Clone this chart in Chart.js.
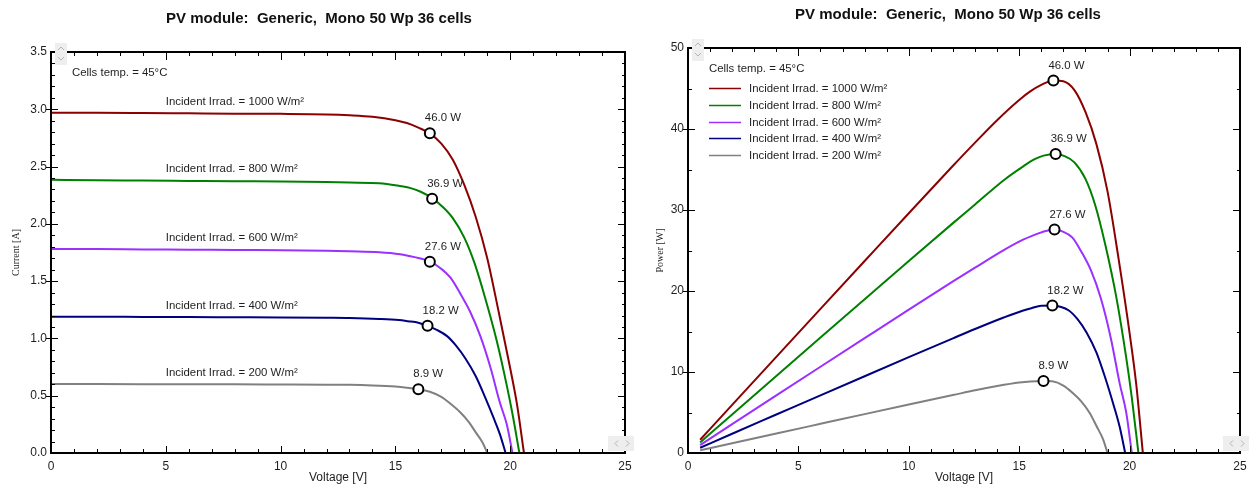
<!DOCTYPE html>
<html>
<head>
<meta charset="utf-8">
<title>PV module: Generic, Mono 50 Wp 36 cells</title>
<script src="https://cdn.jsdelivr.net/npm/chart.js@4.4.1/dist/chart.umd.min.js"></script>
<style>
  html, body { margin: 0; padding: 0; background: #fff; }
  body { width: 1254px; height: 489px; position: relative; overflow: hidden; }
  canvas { position: absolute; top: 0; }
  #ivChart { left: 0; }
  #pvChart { left: 642px; }
</style>
</head>
<body>
<canvas id="ivChart" width="638" height="489"></canvas>
<canvas id="pvChart" width="612" height="489"></canvas>
<script>
const chartTitle = 'PV module:  Generic,  Mono 50 Wp 36 cells';
const cellsTemp = 'Cells temp. = 45°C';
const irradiance = [1000, 800, 600, 400, 200];
const curveColors = ['#8b0000', '#008000', '#9b30ff', '#000080', '#808080'];

// I-V curves (left graph), voltage [V] / current [A]
const ivV1000 = [0, 2, 4, 6, 8, 10, 12, 13, 14, 15, 15.5, 16, 16.5, 17, 17.5, 18, 18.5, 19, 19.5, 20, 20.3, 20.6];
const ivI1000 = [2.97, 2.97, 2.968, 2.965, 2.962, 2.96, 2.955, 2.948, 2.935, 2.905, 2.88, 2.84, 2.79, 2.70, 2.56, 2.34, 2.06, 1.70, 1.23, 0.74, 0.42, 0];
const ivV800 = [0, 2, 4, 6, 8, 10, 12, 13, 14.3, 15.2, 15.7, 16.1, 16.6, 17.05, 17.5, 18.0, 18.45, 18.9, 19.4, 19.85, 20.1, 20.4];
const ivI800 = [2.385, 2.38, 2.378, 2.375, 2.372, 2.37, 2.365, 2.36, 2.355, 2.33, 2.31, 2.28, 2.225, 2.15, 2.05, 1.88, 1.655, 1.36, 0.99, 0.59, 0.34, 0];
const ivV600 = [0, 2, 4, 6, 8, 10, 12, 13, 14.3, 15.2, 15.6, 16.05, 16.5, 16.95, 17.4, 17.8, 18.25, 18.7, 19.15, 19.55, 19.85, 20.1];
const ivI600 = [1.78, 1.78, 1.777, 1.775, 1.772, 1.77, 1.765, 1.76, 1.752, 1.735, 1.72, 1.70, 1.672, 1.615, 1.53, 1.40, 1.235, 1.02, 0.74, 0.44, 0.25, 0];
const ivV400 = [0, 2, 4, 6, 8, 10, 12, 13, 14.3, 15.15, 15.55, 16.0, 16.4, 16.8, 17.25, 17.65, 18.05, 18.5, 18.9, 19.3, 19.55, 19.8];
const ivI400 = [1.19, 1.19, 1.188, 1.187, 1.185, 1.183, 1.18, 1.178, 1.17, 1.16, 1.15, 1.137, 1.11, 1.075, 1.02, 0.935, 0.825, 0.67, 0.49, 0.295, 0.165, 0];
const ivV200 = [0, 2, 4, 6, 8, 10, 12, 13, 14, 15, 15.5, 16, 16.5, 17, 17.4, 17.8, 18.2, 18.5, 18.8, 19.0];
const ivI200 = [0.603, 0.602, 0.601, 0.6, 0.6, 0.598, 0.596, 0.595, 0.59, 0.58, 0.57, 0.556, 0.535, 0.49, 0.43, 0.36, 0.27, 0.18, 0.09, 0];

// P-V curves (right graph), voltage [V] / power [W]
const pvV1000 = [0.55, 2, 4, 6, 8, 10, 12, 13, 14, 15, 15.5, 16, 16.55, 17, 17.5, 18, 18.5, 19, 19.5, 20, 20.3, 20.6];
const pvP1000 = [1.63, 5.94, 11.87, 17.79, 23.7, 29.6, 35.46, 38.32, 41.09, 43.58, 44.64, 45.44, 46.0, 45.9, 44.8, 42.1, 38.1, 32.3, 24.0, 14.8, 8.5, 0];
const pvV800 = [0.55, 2, 4, 6, 8, 10, 12, 13, 14.3, 15.2, 15.7, 16.1, 16.65, 17.05, 17.5, 18.0, 18.45, 18.9, 19.4, 19.85, 20.1, 20.4];
const pvP800 = [1.31, 4.76, 9.51, 14.25, 18.98, 23.7, 28.38, 30.68, 33.68, 35.42, 36.27, 36.71, 36.9, 36.66, 35.88, 33.84, 30.53, 25.7, 19.21, 11.71, 6.83, 0];
const pvV600 = [0.55, 2, 4, 6, 8, 10, 12, 13, 14.3, 15.2, 15.6, 16.05, 16.6, 16.95, 17.4, 17.8, 18.25, 18.7, 19.15, 19.55, 19.85, 20.1];
const pvP600 = [0.98, 3.56, 7.11, 10.65, 14.18, 17.7, 21.18, 22.88, 25.05, 26.37, 26.83, 27.29, 27.6, 27.37, 26.62, 24.92, 22.54, 19.07, 14.17, 8.6, 4.96, 0];
const pvV400 = [0.55, 2, 4, 6, 8, 10, 12, 13, 14.3, 15.15, 15.55, 16.0, 16.5, 16.85, 17.25, 17.65, 18.05, 18.5, 18.9, 19.3, 19.55, 19.8];
const pvP400 = [0.65, 2.38, 4.75, 7.12, 9.48, 11.83, 14.16, 15.31, 16.73, 17.57, 17.88, 18.19, 18.2, 18.06, 17.6, 16.5, 14.89, 12.4, 9.26, 5.69, 3.23, 0];
const pvV200 = [0.55, 2, 4, 6, 8, 10, 12, 13, 14, 15, 15.5, 16.1, 16.5, 17, 17.4, 17.8, 18.2, 18.5, 18.8, 19.0];
const pvP200 = [0.33, 1.2, 2.4, 3.6, 4.8, 5.98, 7.15, 7.74, 8.26, 8.7, 8.84, 8.9, 8.85, 8.33, 7.48, 6.41, 4.91, 3.33, 1.69, 0];

// maximum power points, as placed on each graph
const ivMppVoltage = [16.5, 16.6, 16.5, 16.4, 16.0];
const ivMppCurrent = [2.79, 2.22, 1.67, 1.11, 0.556];
const pvMppVoltage = [16.55, 16.65, 16.6, 16.5, 16.1];
const mppPower = [46.0, 36.9, 27.6, 18.2, 8.9];

const ivVolts = [ivV1000, ivV800, ivV600, ivV400, ivV200];
const ivAmps = [ivI1000, ivI800, ivI600, ivI400, ivI200];
const pvVolts = [pvV1000, pvV800, pvV600, pvV400, pvV200];
const pvWatts = [pvP1000, pvP800, pvP600, pvP400, pvP200];

const sans = '"Liberation Sans", Arial, sans-serif';
const serif = '"Liberation Serif", "Times New Roman", serif';
const textColor = '#1e1e1e';
const noteFont = '11.4px ' + sans;

function curveSets(volts, values) {
    return irradiance.map((g, i) => ({
        label: 'Incident Irrad. = ' + g + ' W/m²',
        data: volts[i].map((v, k) => ({ x: v, y: values[i][k] })),
        borderColor: curveColors[i],
        backgroundColor: curveColors[i],
        borderWidth: 2,
        pointRadius: 0,
        cubicInterpolationMode: 'monotone',
        order: 1
    }));
}

function mppSet(volts, values) {
    return {
        type: 'scatter',
        label: 'MPP',
        data: volts.map((v, i) => ({ x: v, y: values[i] })),
        pointRadius: 5,
        pointBorderWidth: 2,
        borderColor: '#000',
        backgroundColor: '#fff',
        order: 0
    };
}

// small scroll buttons of the original window
function drawScrollers(ctx, a) {
    ctx.save();
    ctx.fillStyle = '#eeeeee';
    ctx.fillRect(a.left + 4, a.top - 9, 12, 22);
    ctx.fillRect(a.right - 17, a.bottom - 17, 26, 15);
    ctx.strokeStyle = '#b4b4b4';
    ctx.lineWidth = 1;
    ctx.beginPath();
    let cx = a.left + 10, cy = a.top - 4;
    ctx.moveTo(cx - 3, cy + 2); ctx.lineTo(cx, cy - 1); ctx.lineTo(cx + 3, cy + 2);
    cy = a.top + 7;
    ctx.moveTo(cx - 3, cy - 2); ctx.lineTo(cx, cy + 1); ctx.lineTo(cx + 3, cy - 2);
    cx = a.right - 9; cy = a.bottom - 9.5;
    ctx.moveTo(cx + 2, cy - 3); ctx.lineTo(cx - 1, cy); ctx.lineTo(cx + 2, cy + 3);
    cx = a.right + 3;
    ctx.moveTo(cx - 2, cy - 3); ctx.lineTo(cx + 1, cy); ctx.lineTo(cx - 2, cy + 3);
    ctx.stroke();
    ctx.restore();
}

const decorPlugin = {
    id: 'decor',
    afterDatasetsDraw(chart, args, o) {
        const { ctx, chartArea: a } = chart;
        const xs = chart.scales.x, ys = chart.scales.y;
        ctx.save();

        // frame + inner ticks on all four sides
        ctx.strokeStyle = '#000';
        ctx.lineWidth = 2;
        ctx.strokeRect(a.left, a.top, a.right - a.left, a.bottom - a.top);
        ctx.lineWidth = 1;
        ctx.beginPath();
        const nx = Math.round((xs.max - xs.min) / o.xMinor);
        for (let k = 1; k < nx; k++) {
            const px = Math.round(xs.getPixelForValue(xs.min + k * o.xMinor)) + 0.5;
            const major = k % o.xEvery === 0;
            ctx.moveTo(px, a.bottom); ctx.lineTo(px, a.bottom - (major ? 7 : 4));
            ctx.moveTo(px, a.top); ctx.lineTo(px, a.top + (major ? 8 : 4));
        }
        const ny = Math.round((ys.max - ys.min) / o.yMinor);
        for (let k = 1; k < ny; k++) {
            const py = Math.round(ys.getPixelForValue(ys.min + k * o.yMinor)) + 0.5;
            const major = k % o.yEvery === 0;
            if (major) {
                ctx.moveTo(a.left - 5, py); ctx.lineTo(a.left + 7, py);
                ctx.moveTo(a.right, py); ctx.lineTo(a.right - 7, py);
            } else {
                ctx.moveTo(a.left, py); ctx.lineTo(a.left + 4, py);
                ctx.moveTo(a.right, py); ctx.lineTo(a.right - 3, py);
            }
        }
        ctx.stroke();

        // texts
        ctx.fillStyle = textColor;
        ctx.textBaseline = 'middle';
        ctx.textAlign = 'left';
        ctx.font = noteFont;
        ctx.fillText(cellsTemp, a.left + 21, a.top + o.tempDy);

        if (o.curveLabels) {
            irradiance.forEach((g, i) => {
                const px = xs.getPixelForValue(o.labelVolt);
                const py = ys.getPixelForValue(ivAmps[i][0]) - 11;
                ctx.fillText(chart.data.datasets[i].label, px, py);
            });
        }
        if (o.legend) {
            irradiance.forEach((g, i) => {
                const y = Math.round(a.top + 40 + i * 16.8) + 0.5;
                ctx.strokeStyle = curveColors[i];
                ctx.lineWidth = 1.5;
                ctx.beginPath();
                ctx.moveTo(a.left + 21, y); ctx.lineTo(a.left + 53, y);
                ctx.stroke();
                ctx.fillText(chart.data.datasets[i].label, a.left + 61, y);
            });
        }

        const meta = chart.getDatasetMeta(irradiance.length);
        meta.data.forEach((pt, i) => {
            ctx.fillText(mppPower[i].toFixed(1) + ' W', pt.x - 5, pt.y - 15);
        });
        ctx.restore();
    },
    afterDraw(chart, args, o) {
        const { ctx, chartArea: a } = chart;
        drawScrollers(ctx, a);
        ctx.save();
        ctx.fillStyle = '#111';
        ctx.font = 'bold 15px ' + sans;
        ctx.textAlign = 'center';
        ctx.textBaseline = 'middle';
        ctx.fillText(chartTitle, o.titleX, o.titleY);
        ctx.restore();
    }
};

function axisX(fitHeight) {
    return {
        type: 'linear', min: 0, max: 25,
        afterFit: s => { s.height = fitHeight; },
        grid: { display: false, drawTicks: false },
        border: { display: false },
        ticks: { stepSize: 5, padding: 6, color: textColor, font: { family: sans, size: 12 } },
        title: { display: true, text: 'Voltage [V]', color: textColor, font: { family: sans, size: 12 }, padding: { top: 0, bottom: 4 } }
    };
}

// left: current vs voltage
new Chart(document.getElementById('ivChart'), {
    type: 'line',
    data: { datasets: [...curveSets(ivVolts, ivAmps), mppSet(ivMppVoltage, ivMppCurrent)] },
    plugins: [decorPlugin],
    options: {
        responsive: false,
        animation: false,
        events: [],
        layout: { padding: { top: 52, right: 13, left: 0, bottom: 0 } },
        plugins: {
            legend: { display: false },
            tooltip: { enabled: false },
            decor: { xMinor: 1, xEvery: 5, yMinor: 0.1, yEvery: 5, tempDy: 21, curveLabels: true, labelVolt: 5, titleX: 319, titleY: 19 }
        },
        scales: {
            x: axisX(36),
            y: {
                min: 0, max: 3.5,
                afterFit: s => { s.width = 51; },
                grid: { display: false, drawTicks: false },
                border: { display: false },
                ticks: { stepSize: 0.5, padding: 4, color: textColor, font: { family: sans, size: 12 }, callback: v => v.toFixed(1) },
                title: { display: true, text: 'Current [A]', color: textColor, font: { family: serif, size: 10 }, padding: { top: 10, bottom: 0 } }
            }
        }
    }
});

// right: power vs voltage
new Chart(document.getElementById('pvChart'), {
    type: 'line',
    data: { datasets: [...curveSets(pvVolts, pvWatts), mppSet(pvMppVoltage, mppPower)] },
    plugins: [decorPlugin],
    options: {
        responsive: false,
        animation: false,
        events: [],
        layout: { padding: { top: 48, right: 14, left: 0, bottom: 0 } },
        plugins: {
            legend: { display: false },
            tooltip: { enabled: false },
            decor: { xMinor: 1, xEvery: 5, yMinor: 5, yEvery: 2, tempDy: 21, legend: true, titleX: 306, titleY: 15 }
        },
        scales: {
            x: axisX(36),
            y: {
                min: 0, max: 50,
                afterFit: s => { s.width = 46; },
                grid: { display: false, drawTicks: false },
                border: { display: false },
                ticks: { stepSize: 10, padding: 4, color: textColor, font: { family: sans, size: 12 } },
                title: { display: true, text: 'Power [W]', color: textColor, font: { family: serif, size: 10 }, padding: { top: 12, bottom: 0 } }
            }
        }
    }
});
</script>
</body>
</html>
